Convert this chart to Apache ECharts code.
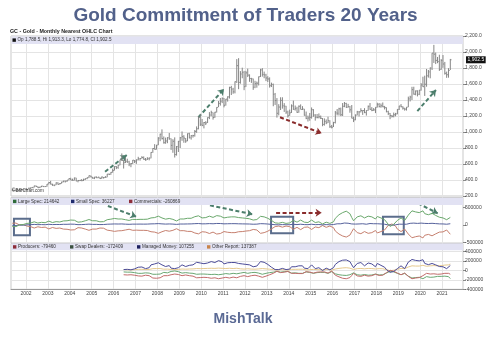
<!DOCTYPE html>
<html><head><meta charset="utf-8">
<script src="https://cdn.jsdelivr.net/npm/echarts@6/dist/echarts.min.js"></script>
<style>html,body{margin:0;padding:0;background:#fff}#c{width:500px;height:340px}</style>
</head><body><div id="c"></div>
<script>
// ---- price: monthly nearest gold futures, May 2001 .. May 2021 ----
const priceStart = [2001, 5];
const highs = [
294,277,272,280,298,294,282,281,
289,304,305,311,328,332,322,315,326,326,323,349,
372,389,354,341,370,372,362,378,391,392,400,418,
428,417,430,428,397,400,411,416,419,432,456,457,
440,439,447,439,436,443,438,449,476,482,498,542,
572,575,590,654,732,652,679,666,640,612,650,650,
658,690,673,698,695,675,685,683,748,797,848,838,
935,979,1033,944,930,935,988,920,910,933,825,888,
938,1007,960,925,982,990,960,965,1025,1070,1195,1227,
1163,1125,1135,1183,1249,1266,1244,1251,1310,1387,1425,1432,
1425,1413,1446,1566,1577,1552,1632,1911,1923,1761,1804,1764,
1764,1792,1721,1677,1668,1640,1631,1693,1790,1798,1755,1727,
1697,1683,1617,1605,1488,1424,1348,1434,1434,1361,1327,1267,
1280,1345,1392,1331,1315,1332,1345,1323,1290,1256,1205,1238,
1307,1286,1223,1225,1232,1206,1175,1170,1157,1191,1147,1088,
1127,1263,1287,1303,1305,1362,1375,1365,1352,1326,1337,1191,
1220,1264,1261,1297,1273,1298,1272,1331,1362,1311,1299,1310,
1366,1362,1356,1369,1326,1309,1266,1237,1213,1243,1239,1286,
1327,1349,1323,1303,1311,1442,1453,1565,1566,1519,1522,1526,
1611,1691,1704,1788,1775,1807,1986,2089,1993,1938,1966,1911,
1962,1876,1755,1798,1913.3];
const lows = [
264,263,262,265,271,276,272,272,
277,282,288,299,306,315,301,300,310,313,313,316,
345,345,327,323,336,343,343,354,371,368,376,396,
399,391,393,385,371,386,385,387,399,410,424,434,
417,411,424,422,414,414,418,427,434,462,466,491,
518,536,540,584,640,543,612,614,573,560,600,612,
602,645,642,667,654,641,650,646,671,740,782,780,
835,885,906,855,853,860,902,776,740,681,705,750,
800,890,866,865,884,920,905,930,942,990,1033,1075,
1073,1045,1087,1112,1161,1197,1155,1177,1243,1310,1330,1361,
1308,1330,1380,1418,1462,1478,1483,1613,1535,1604,1672,1523,
1564,1687,1627,1614,1527,1548,1554,1582,1687,1692,1672,1636,
1625,1555,1562,1322,1338,1180,1208,1275,1292,1251,1226,1180,
1202,1238,1277,1268,1240,1241,1284,1275,1204,1160,1131,1141,
1167,1190,1142,1170,1170,1162,1072,1080,1098,1112,1052,1045,
1062,1107,1208,1206,1199,1200,1310,1301,1304,1241,1171,1124,
1146,1207,1194,1245,1214,1236,1205,1266,1277,1260,1264,1236,
1305,1307,1303,1310,1282,1246,1211,1160,1181,1183,1196,1221,
1275,1309,1280,1267,1268,1310,1382,1400,1467,1459,1445,1461,
1517,1563,1451,1566,1680,1671,1775,1863,1849,1860,1764,1776,
1802,1717,1677,1679,1774.8];
const closes = [
267,271,266,273,293,279,275,279,
282,297,303,308,326,318,304,312,324,317,318,348,
368,348,336,337,364,346,355,375,386,384,398,417,
399,396,426,388,394,396,392,408,418,429,453,438,
423,436,429,436,418,437,430,434,473,470,496,518,
569,556,584,654,645,616,634,627,599,605,648,636,
652,666,669,681,659,651,667,673,745,794,783,837,
924,973,917,865,888,928,917,833,884,717,816,884,
928,942,924,888,979,927,955,955,1008,1040,1182,1097,
1083,1118,1113,1180,1212,1245,1181,1248,1308,1357,1384,1421,
1334,1411,1439,1556,1536,1502,1628,1829,1620,1725,1746,1566,
1739,1711,1669,1664,1560,1604,1610,1691,1776,1719,1714,1675,
1663,1578,1595,1472,1393,1234,1312,1395,1327,1323,1250,1202,
1240,1326,1284,1295,1246,1322,1282,1287,1210,1171,1175,1184,
1278,1212,1183,1182,1190,1171,1095,1132,1114,1141,1065,1060,
1118,1238,1235,1290,1215,1322,1357,1309,1317,1277,1173,1152,
1211,1252,1251,1268,1268,1242,1269,1321,1284,1271,1276,1309,
1345,1318,1327,1315,1305,1254,1233,1206,1196,1215,1226,1283,
1325,1316,1298,1286,1311,1414,1437,1529,1473,1513,1472,1523,
1588,1566,1597,1702,1751,1800,1986,1973,1895,1880,1781,1895,
1850,1734,1716,1769,1902.5];
const lastOpen = 1788.5;

// ---- legacy COT (thousands of contracts), May 2001 .. May 2021 ----
const largeSpec = [
-40,-50,-45,-20,5,0,15,30,
45,60,55,70,90,80,55,60,75,70,65,90,
110,100,70,75,95,80,85,100,115,110,120,130,
140,120,135,100,80,85,90,100,120,140,155,140,
120,125,120,110,90,105,95,110,150,155,165,170,
185,175,170,195,170,140,150,145,130,135,160,150,
155,175,160,175,160,140,165,150,200,225,210,230,
250,240,200,170,165,175,185,130,160,120,115,140,
170,185,170,160,190,185,190,195,235,245,260,230,
200,215,210,230,250,255,215,240,265,270,250,245,
200,215,220,250,230,205,230,240,210,190,200,160,
190,200,175,165,140,150,155,190,245,240,230,200,
190,150,130,110,60,40,50,80,75,60,45,40,
60,115,130,110,80,130,140,130,80,55,70,80,
140,115,70,80,90,70,30,70,80,120,45,30,
90,190,240,290,250,350,400,390,360,320,210,120,
170,230,200,260,240,200,150,250,280,230,240,170,
240,220,200,210,150,100,20,-40,-20,20,40,130,
160,200,150,130,150,280,340,400,390,370,330,350,
390,400,320,280,290,310,330,300,270,260,220,240,
200,170,150,170,214.642];
const smallSpec = [
-10,-12,-15,-10,0,-2,-5,0,
5,10,8,12,18,15,10,10,12,10,8,15,
20,18,12,12,15,12,14,18,20,18,20,22,
25,20,22,15,10,10,12,15,18,22,25,22,
18,20,18,16,12,15,14,16,22,24,26,28,
30,28,28,32,30,22,24,22,20,20,25,24,
25,28,26,28,25,22,26,24,32,36,34,38,
40,38,32,26,26,28,30,20,26,18,18,22,
28,30,28,26,30,30,32,32,38,40,42,38,
33,35,34,37,40,42,35,39,44,45,42,40,
33,35,36,40,38,34,38,40,34,30,32,26,
30,32,28,26,22,24,25,30,38,37,35,30,
28,22,18,15,8,4,6,12,12,10,8,6,
10,18,20,17,12,20,22,20,12,8,10,12,
22,18,10,12,14,10,4,10,12,18,6,4,
14,28,34,40,35,50,56,54,50,45,30,18,
26,34,30,38,36,30,22,38,42,34,36,26,
36,32,30,32,22,14,2,-8,-5,2,6,20,
24,30,22,20,22,40,48,56,54,50,45,48,
54,56,45,40,42,45,48,44,40,38,32,35,
30,26,22,26,36.227];
const commercials = [
50,60,55,30,0,5,10,-10,
-30,-50,-45,-60,-85,-75,-50,-55,-70,-65,-60,-90,
-110,-100,-70,-70,-95,-80,-85,-100,-115,-110,-120,-130,
-140,-120,-135,-95,-75,-80,-85,-95,-115,-135,-150,-135,
-115,-120,-115,-105,-85,-100,-90,-105,-145,-150,-160,-165,
-180,-170,-165,-185,-160,-130,-140,-135,-120,-125,-150,-140,
-145,-165,-150,-165,-150,-130,-155,-140,-190,-215,-200,-220,
-235,-230,-190,-160,-155,-165,-175,-120,-150,-110,-105,-130,
-160,-175,-160,-150,-180,-175,-180,-185,-225,-235,-250,-215,
-190,-200,-200,-215,-240,-245,-200,-225,-255,-260,-240,-230,
-185,-200,-205,-240,-215,-190,-215,-225,-190,-175,-185,-140,
-170,-185,-160,-150,-125,-135,-140,-175,-235,-225,-215,-185,
-175,-135,-110,-90,-45,-20,-30,-60,-60,-45,-30,-25,
-45,-100,-120,-95,-65,-120,-130,-115,-65,-40,-55,-65,
-125,-100,-55,-65,-75,-55,-15,-50,-65,-105,-30,-15,
-75,-170,-215,-255,-225,-310,-350,-340,-315,-285,-190,-105,
-155,-215,-185,-245,-225,-185,-135,-235,-265,-215,-225,-155,
-225,-205,-185,-195,-140,-90,-10,45,30,-10,-30,-115,
-145,-185,-135,-115,-135,-255,-305,-360,-350,-330,-290,-310,
-345,-365,-290,-255,-265,-285,-305,-275,-250,-240,-200,-225,
-195,-165,-140,-160,-260.869];

// ---- disaggregated COT (thousands), Jun 2006 .. May 2021 ----
const disStart = [2006, 6];
const producers = [
-90,-100,-95,-85,-90,-105,-100,
-105,-115,-110,-120,-110,-100,-115,-110,-140,-160,-155,-165,
-160,-155,-130,-110,-105,-110,-115,-90,-100,-75,-70,-85,
-100,-110,-100,-95,-110,-110,-115,-120,-145,-155,-165,-150,
-140,-145,-145,-150,-160,-165,-145,-155,-170,-175,-165,-160,
-140,-145,-150,-160,-150,-140,-150,-155,-135,-125,-130,-110,
-120,-130,-115,-110,-95,-100,-100,-120,-150,-145,-140,-120,
-110,-90,-75,-60,-30,-15,-25,-45,-45,-35,-25,-20,
-30,-60,-70,-60,-40,-65,-70,-65,-40,-25,-30,-35,
-70,-55,-30,-35,-40,-30,-10,-30,-35,-55,-20,-10,
-40,-100,-120,-135,-120,-165,-180,-175,-165,-150,-105,-60,
-85,-115,-100,-125,-115,-100,-75,-120,-135,-110,-115,-80,
-115,-105,-95,-100,-70,-45,-15,5,0,-15,-20,-55,
-70,-90,-65,-55,-65,-125,-150,-175,-170,-160,-145,-150,
-120,-110,-85,-60,-65,-75,-80,-70,-75,-80,-70,-75,
-70,-60,-50,-60,-79.46];
const swapDealers = [
-30,-40,-35,-30,-35,-50,-45,
-50,-60,-55,-60,-55,-50,-60,-55,-70,-80,-75,-80,
-80,-75,-60,-40,-45,-50,-50,-20,-30,-10,-10,-25,
-40,-55,-50,-45,-55,-55,-60,-60,-75,-80,-85,-75,
-70,-75,-75,-80,-85,-85,-75,-80,-90,-90,-85,-80,
-60,-65,-65,-75,-70,-60,-65,-70,-60,-55,-55,-40,
-55,-60,-50,-45,-35,-40,-40,-55,-80,-80,-75,-60,
-60,-45,-40,-35,-20,-20,-25,-35,-30,-25,-20,-20,
-30,-55,-60,-50,-40,-60,-65,-60,-40,-30,-35,-40,
-70,-60,-40,-45,-50,-40,-25,-40,-45,-60,-30,-25,
-50,-70,-80,-90,-80,-100,-110,-105,-95,-90,-70,-50,
-75,-90,-85,-100,-95,-85,-70,-100,-110,-95,-100,-75,
-105,-95,-85,-90,-75,-55,-30,-15,-20,-30,-35,-60,
-75,-90,-70,-60,-70,-120,-140,-160,-155,-150,-140,-145,
-170,-175,-140,-130,-135,-145,-150,-140,-130,-125,-115,-125,
-130,-120,-110,-130,-172.409];
const managedMoney = [
20,30,25,10,15,40,35,
45,70,60,75,55,40,70,60,120,150,140,155,
165,160,120,90,85,95,105,50,80,40,35,60,
90,120,100,85,115,110,115,120,160,175,190,160,
130,145,140,160,185,190,150,170,200,210,190,185,
140,160,165,190,170,150,170,185,150,130,140,100,
130,150,120,110,80,90,95,130,190,185,175,140,
130,90,70,50,20,10,20,50,45,35,20,15,
30,80,100,80,50,100,110,100,50,25,40,50,
120,90,40,50,60,40,0,40,50,90,15,5,
60,130,160,190,160,220,235,225,215,190,120,60,
100,150,130,170,150,100,60,160,190,140,150,80,
150,130,110,120,70,20,-20,-40,-35,-20,-10,40,
70,100,60,40,60,180,210,235,220,215,195,205,
225,230,150,120,125,140,150,130,120,110,85,100,
80,60,40,60,107.255];
const otherReport = [
20,15,15,10,12,20,18,
20,25,22,25,22,20,25,22,35,40,38,42,
45,42,35,28,28,30,32,22,28,18,18,22,
28,32,30,28,32,32,34,34,40,42,45,40,
40,42,42,45,48,48,42,45,50,52,48,46,
40,42,44,48,46,42,46,48,40,36,38,30,
34,38,32,30,26,28,28,34,44,42,40,35,
33,28,24,20,14,10,12,18,18,15,12,10,
15,25,28,25,18,27,30,28,18,12,15,18,
28,24,15,18,20,15,8,15,18,25,10,8,
18,32,38,45,40,55,62,60,55,50,35,22,
30,40,36,44,42,36,28,44,50,42,44,32,
42,40,36,38,28,18,6,-4,-2,6,10,25,
35,45,40,40,45,75,90,100,100,95,90,95,
105,110,95,90,95,100,110,105,100,100,95,105,
110,115,115,120,137.387];

const yearTicks = [2002,2003,2004,2005,2006,2007,2008,2009,2010,2011,2012,2013,2014,2015,2016,2017,2018,2019,2020,2021];
const priceTicks = [200,400,600,800,1000,1200,1400,1600,1800,2000,2200];
const cotTicks = [-500,0,500];
const disTicks = [-400,-200,0,200,400];

// annotations [x(year), y] pairs
const priceArrows = [
  {from:[2005.61,504], to:[2006.6,712], c:'g'},
  {from:[2009.87,1184], to:[2011.04,1537], c:'g'},
  {from:[2013.6,1184], to:[2015.5,984], c:'r'},
  {from:[2019.87,1262], to:[2020.72,1525], c:'g'}
];
const cotArrows = [
  {from:[2005.74,537], to:[2007.04,234], c:'g'},
  {from:[2010.4,556], to:[2012.35,302], c:'g'},
  {from:[2013.42,347], to:[2015.5,347], c:'r'},
  {from:[2019.9,613], to:[2020.8,330], c:'g'}
];
const cotBoxes = [
  {from:[2001.45,178], to:[2002.18,-291]},
  {from:[2013.19,234], to:[2014.2,-234]},
  {from:[2018.3,234], to:[2019.25,-263]}
];

// ---- build ----
function xOf(start, i){ const m = start[1]-1+i; return start[0] + (m+0.5)/12; }
const priceData = closes.map((c,i)=>[xOf(priceStart,i), lows[i], highs[i], c]);
const pairs = (arr,start)=>arr.map((v,i)=>[xOf(start,i), v]);
const last = a => a[a.length-1];
const fmt1 = v => v.toLocaleString('en-US',{minimumFractionDigits:1, maximumFractionDigits:1});
const GREEN='#4c7e6c', RED='#8a2c2c', BOX='#5b6d8c';
const arrowLines = list => list.map(a=>[
  {coord:a.from, symbol:'none', lineStyle:{color:a.c==='g'?GREEN:RED, width:2, type:[4,2.5]}},
  {coord:a.to, symbol:'arrow', symbolSize:[6,6]}
]);

const XMIN=2001.315, XMAX=2021.955;
const FONT='"Liberation Sans", Arial, sans-serif';
const gridBase = {left:11, right:37, show:true, borderColor:'#c9c9c9', borderWidth:1};
function xAxis(gi, labels){
  return {type:'value', gridIndex:gi, min:XMIN, max:XMAX,
    axisLine:{show:labels, onZero:false, lineStyle:{color:'#999'}},
    axisTick:{show:false, customValues:yearTicks},
    axisLabel:{show:labels, customValues:yearTicks, formatter:v=>String(Math.round(v)), fontSize:5, color:'#444', margin:2, fontFamily:FONT},
    splitLine:{show:true, lineStyle:{color:'#e4e4e4', width:1}}};
}
function rightAxis(gi, min, max, ticks, f, split){
  return {type:'value', gridIndex:gi, position:'right', min, max,
    axisLine:{show:false},
    axisTick:{show:true, length:3, customValues:ticks, lineStyle:{color:'#888'}},
    axisLabel:{customValues:ticks, formatter:f, fontSize:5, color:'#444', margin:2, fontFamily:FONT, showMinLabel:true, showMaxLabel:true},
    splitLine:{show:split, lineStyle:{color:'#e4e4e4'}}};
}

const chart = echarts.init(document.getElementById('c'), null, {renderer:'canvas'});
const lineS = (name, data, color, xi, yi, extra) => Object.assign({type:'line', name, data, xAxisIndex:xi, yAxisIndex:yi,
  showSymbol:false, symbol:'none', lineStyle:{color, width:1}, itemStyle:{color}, silent:true, animation:false, z:3}, extra||{});

function legendText(x, y, sq, txt){
  return [{type:'rect', shape:{x:x, y:y-1.8, width:3.4, height:3.4}, style:{fill:sq}, silent:true, z:100},
    {type:'text', x:x+5, y:y, style:{text:txt, font:'4.6px '+FONT, fill:'#333', textVerticalAlign:'middle'}, silent:true, z:100}];
}
const legendBar = (y,h)=>({type:'rect', shape:{x:11.5, y:y, width:451.5, height:h}, style:{fill:'#e2e2f3'}, silent:true, z:50});

const graphics = [
  {type:'text', x:245.5, y:15.5, style:{text:'Gold Commitment of Traders 20 Years', font:'bold 19px '+FONT, fill:'#52618a', textAlign:'center', textVerticalAlign:'middle'}},
  {type:'text', x:10, y:31.8, style:{text:'GC - Gold - Monthly Nearest OHLC Chart', font:'bold 5.3px '+FONT, fill:'#222', textVerticalAlign:'middle'}},
  legendBar(36.5,7.5),
  ...legendText(12.5,40.2,'#111', 'Op '+fmt1(lastOpen)+', Hi '+fmt1(last(highs))+', Lo '+fmt1(last(lows))+', Cl '+fmt1(last(closes))),
  {type:'text', x:12, y:190.6, style:{text:'\u00A9BarChart.com', font:'4.6px '+FONT, fill:'#333', textVerticalAlign:'middle'}, z:100},
  legendBar(197.8,7.2),
  ...legendText(13,201.5,'#2f6b3a','Large Spec: '+Math.round(last(largeSpec)*1000)),
  ...legendText(71,201.5,'#1f2b6e','Small Spec: '+Math.round(last(smallSpec)*1000)),
  ...legendText(129,201.5,'#8e2e3a','Commercials: '+Math.round(last(commercials)*1000)),
  legendBar(243.6,6.6),
  ...legendText(13,247,'#8e2e3a','Producers: '+Math.round(last(producers)*1000)),
  ...legendText(70,247,'#3b5140','Swap Dealers: '+Math.round(last(swapDealers)*1000)),
  ...legendText(137,247,'#1c1f5e','Managed Money: '+Math.round(last(managedMoney)*1000)),
  ...legendText(207,247,'#c8844a','Other Report: '+Math.round(last(otherReport)*1000)),
  {type:'text', x:243, y:319, style:{text:'MishTalk', font:'bold 14px '+FONT, fill:'#5a6994', textAlign:'center', textVerticalAlign:'middle'}}
];

chart.setOption({
  animation:false,
  backgroundColor:'#fff',
  grid:[
    Object.assign({top:36, height:160}, gridBase),
    Object.assign({top:197.5, height:45.5}, gridBase),
    Object.assign({top:243.5, height:45.8}, gridBase)
  ],
  xAxis:[xAxis(0,false), xAxis(1,false), xAxis(2,true)],
  yAxis:[
    rightAxis(0,200,2200,priceTicks,fmt1,true),
    rightAxis(1,-508,777,cotTicks,v=>String(Math.round(v*1000)),false),
    rightAxis(2,-400,575,disTicks,v=>String(Math.round(v*1000)),true)
  ],
  graphic:{elements:graphics},
  series:[
    {type:'custom', name:'Gold', xAxisIndex:0, yAxisIndex:0, data:priceData, encode:{x:0, y:[1,2,3]}, silent:true, z:60,
      renderItem(params, api){
        const x=api.value(0), lo=api.coord([x,api.value(1)]), hi=api.coord([x,api.value(2)]), cl=api.coord([x,api.value(3)]);
        return {type:'group', children:[
          {type:'line', shape:{x1:lo[0], y1:lo[1], x2:hi[0], y2:hi[1]}, style:{stroke:'#858585', lineWidth:1}},
          {type:'line', shape:{x1:cl[0], y1:cl[1], x2:cl[0]+1.2, y2:cl[1]}, style:{stroke:'#858585', lineWidth:1}}
        ]};
      },
      markLine:{silent:true, animation:false, label:{show:false}, symbol:['none','arrow'],
        data:[...arrowLines(priceArrows),
          {yAxis:last(closes), symbol:'none', lineStyle:{color:'rgba(0,0,0,0)', width:0.1},
           label:{show:true, position:'end', formatter:()=>fmt1(last(closes)), backgroundColor:'#111', color:'#fff', fontSize:5, padding:[1,1.5], distance:3, fontFamily:FONT}}]}
    },
    lineS('Commercials', pairs(commercials,priceStart), '#c6806f', 1, 1),
    lineS('Small Spec', pairs(smallSpec,priceStart), '#56629c', 1, 1),
    lineS('Large Spec', pairs(largeSpec,priceStart), '#6aa86c', 1, 1, {z:60,
      markLine:{silent:true, animation:false, label:{show:false}, symbol:['none','arrow'], data:arrowLines(cotArrows)},
      markArea:{silent:true, itemStyle:{color:'rgba(0,0,0,0)', borderColor:BOX, borderWidth:2},
        data:cotBoxes.map(b=>[{coord:b.from},{coord:b.to}])}
    }),
    lineS('Other Report', pairs(otherReport,disStart), '#e6c98e', 2, 2),
    lineS('Swap Dealers', pairs(swapDealers,disStart), '#6aa874', 2, 2),
    lineS('Producers', pairs(producers,disStart), '#c26c6c', 2, 2),
    lineS('Managed Money', pairs(managedMoney,disStart), '#4b4b98', 2, 2)
  ]
});
</script>
</body></html>
